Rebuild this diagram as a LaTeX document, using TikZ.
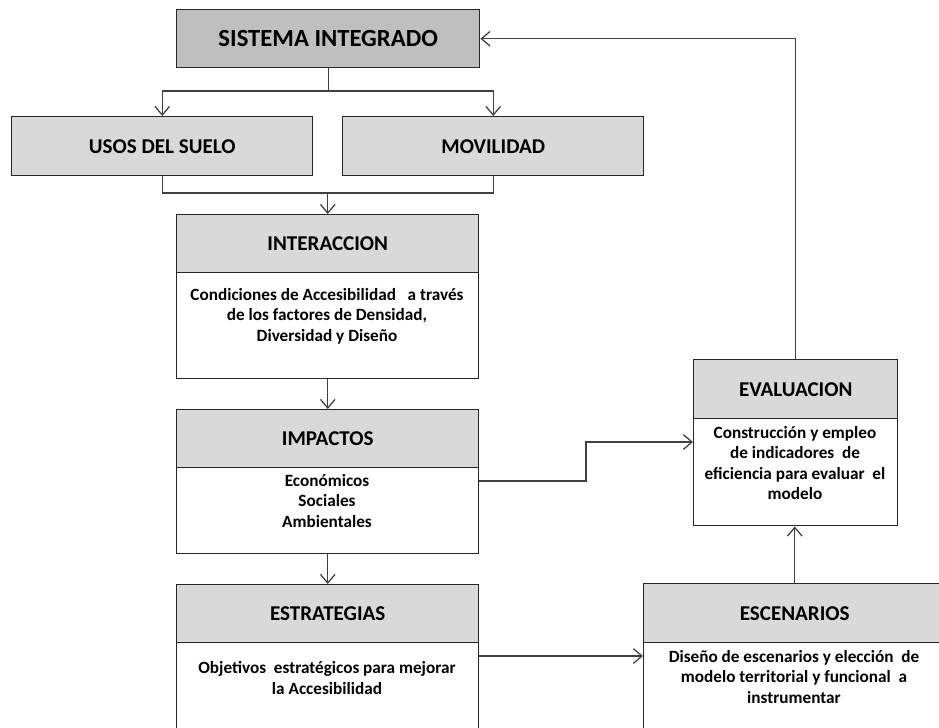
\documentclass[tikz,border=0pt]{standalone}
\usepackage{fontspec}
\setmainfont{Carlito}
\usetikzlibrary{arrows.meta}
\definecolor{hdrgray}{HTML}{D9D9D9}
\definecolor{titlegray}{HTML}{BFBFBF}
\definecolor{linegray}{HTML}{404040}
\definecolor{boxline}{HTML}{262626}
\tikzset{
  box/.style={rectangle, draw=boxline, line width=1.1pt, anchor=north west, inner sep=0pt, font=\bfseries},
  titlebox/.style={box, fill=titlegray, font=\fontsize{18.5}{22}\selectfont\bfseries},
  hdrbox/.style={box, fill=hdrgray, font=\fontsize{15.8}{19}\selectfont\bfseries},
  bodybox/.style={box, fill=white},
  bodytext/.style={align=center, inner sep=0pt, font=\fontsize{12.9}{15.4}\selectfont\bfseries},
  conn/.style={draw=linegray, line width=0.95pt},
  arr/.style={conn, -{Straight Barb[length=6.5pt, width=11pt, line width=0.95pt]}},
}
\begin{document}
\begin{tikzpicture}[x=0.75pt, y=-0.75pt]
\useasboundingbox (0,0) rectangle (939,728);
\clip (0,0) rectangle (939,728);
% title
\node[titlebox, minimum width=227.25pt, minimum height=43.5pt] (sis) at (176,9) {SISTEMA INTEGRADO};
% uses and mobility
\node[hdrbox, minimum width=225.75pt, minimum height=44.25pt] (usos) at (11,116) {USOS DEL SUELO};
\node[hdrbox, minimum width=225.75pt, minimum height=44.25pt] (mov) at (342,116) {MOVILIDAD};
% interaccion
\node[bodybox, minimum width=226.5pt, minimum height=79.5pt] (intb) at (176,272) {};
\node[hdrbox, minimum width=226.5pt, minimum height=43.5pt] (inth) at (176,214) {INTERACCION};
\node[bodytext] (intt) at (327,316) {Condiciones de Accesibilidad\ \ \ a través\\de los factores de Densidad,\\Diversidad y Diseño};
% impactos
\node[bodybox, minimum width=226.5pt, minimum height=64.5pt] (impb) at (176,467) {};
\node[hdrbox, minimum width=226.5pt, minimum height=43.5pt] (imph) at (176,409) {IMPACTOS};
\node[bodytext] (impt) at (327,501) {Económicos\\Sociales\\Ambientales};
% estrategias
\node[bodybox, minimum width=226.5pt, minimum height=75pt] (estb) at (176,642) {};
\node[hdrbox, minimum width=226.5pt, minimum height=43.5pt] (esth) at (176,584) {ESTRATEGIAS};
\node[bodytext] (estt) at (327,678) {Objetivos\ \ estratégicos para mejorar\\la Accesibilidad};
% evaluacion
\node[bodybox, minimum width=153pt, minimum height=80.25pt] (evab) at (693,418) {};
\node[hdrbox, minimum width=153pt, minimum height=44.25pt] (evah) at (693,359) {EVALUACION};
\node[bodytext] (evat) at (795,463) {Construcción y empleo\\de indicadores\ \ de\\eficiencia para evaluar\ \ el\\modelo};
% escenarios
\node[bodybox, minimum width=226.5pt, minimum height=75pt] (escb) at (643,642) {};
\node[hdrbox, minimum width=226.5pt, minimum height=44.25pt] (esch) at (643,583) {ESCENARIOS};
\node[bodytext] (esct) at (794,677) {Diseño de escenarios y elección\ \ de\\modelo territorial y funcional\ \ a\\instrumentar};
% connectors
\coordinate (br) at (327,91);
\coordinate (mg) at (327,193);
\coordinate (a1) at (586,481);
\coordinate (a2) at (586,442);
\coordinate (a3) at (600,656);
\draw[conn] (sis.south) -- (sis.south |- br);
\draw[arr] (sis.south |- br) -| (usos.north);
\draw[arr] (sis.south |- br) -| (mov.north);
\draw[conn] (usos.south) |- (mov.south |- mg) -- (mov.south);
\draw[arr] (inth.north |- mg) -- (inth.north);
\draw[arr] (intb.south) -- (imph.north);
\draw[arr] (impb.south) -- (esth.north);
\draw[arr] (impb.east |- a1) -- (a1) -- (a2) -- (evab.west |- a2);
\draw[arr] (estb.east |- a3) -- (escb.west |- a3);
\draw[arr] (esch.north) -- (esch.north |- evab.south);
\draw[arr] (evah.north) |- (sis.east);
\end{tikzpicture}
\end{document}
